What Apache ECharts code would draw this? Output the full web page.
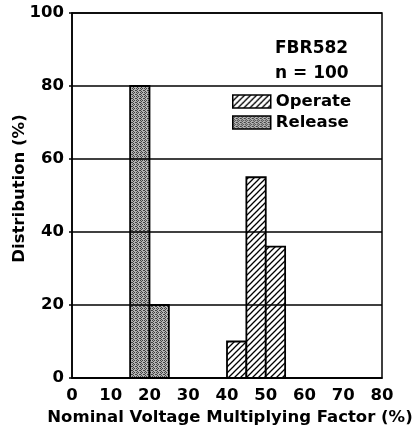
<!DOCTYPE html>
<html><head><meta charset="utf-8">
<script src="https://cdn.jsdelivr.net/npm/echarts@6/dist/echarts.min.js"></script>
<style>html,body{margin:0;padding:0;background:#fff}#c{width:417px;height:437px}</style>
</head><body><div id="c"></div>
<script>
var xTicks = [0, 10, 20, 30, 40, 50, 60, 70, 80];
var yTicks = [0, 20, 40, 60, 80, 100];
var releaseStart = [15, 20];
var releaseEnd = [20, 25];
var releaseValue = [80, 20];
var operateStart = [40, 45, 50];
var operateEnd = [45, 50, 55];
var operateValue = [10, 55, 36];

function hatchCanvas() {
  var c = document.createElement('canvas'); c.width = 6; c.height = 6;
  var g = c.getContext('2d');
  g.fillStyle = '#fff'; g.fillRect(0, 0, 6, 6);
  g.strokeStyle = '#000'; g.lineWidth = 1.3;
  g.beginPath();
  g.moveTo(-1, 7); g.lineTo(7, -1);
  g.moveTo(-4, 4); g.lineTo(4, -4);
  g.moveTo(2, 10); g.lineTo(10, 2);
  g.stroke();
  return c;
}
function stippleCanvas() {
  var c = document.createElement('canvas'); c.width = 4; c.height = 4;
  var g = c.getContext('2d');
  g.fillStyle = '#b4b4b4'; g.fillRect(0, 0, 4, 4);
  g.fillStyle = '#404040';
  g.fillRect(0, 0, 1, 1); g.fillRect(2, 0, 1, 1); g.fillRect(1, 1, 1, 1); g.fillRect(3, 2, 1, 1);
  g.fillRect(0, 2, 1, 1); g.fillRect(1, 3, 1, 1);
  return c;
}
var hatch = { image: hatchCanvas(), repeat: 'repeat' };
var stipple = { image: stippleCanvas(), repeat: 'repeat' };

function rows(s, e, v) { return s.map(function (x, i) { return [x, e[i], v[i]]; }); }

function makeRender(fill) {
  return function (params, api) {
    var p0 = api.coord([api.value(0), api.value(2)]);
    var p1 = api.coord([api.value(1), 0]);
    return { type: 'rect', shape: { x: p0[0], y: p0[1], width: p1[0] - p0[0], height: p1[1] - p0[1] },
      style: { fill: fill, stroke: '#000', lineWidth: 1.8 } };
  };
}

var font = '"DejaVu Sans", Verdana, sans-serif';
var ts = { fontFamily: font, fontSize: 16.5, fontWeight: 'bold', color: '#000' };
var chart = echarts.init(document.getElementById('c'), null, { renderer: 'canvas' });
chart.setOption({
  animation: false,
  backgroundColor: '#fff',
  grid: { left: 72, right: 35, top: 13, bottom: 59, containLabel: false, outerBoundsMode: 'none',
    show: true, borderColor: '#000', borderWidth: 1.5, backgroundColor: 'transparent' },
  xAxis: {
    type: 'value', min: 0, max: 80, interval: 10,
    name: 'Nominal Voltage Multiplying Factor (%)', nameLocation: 'middle', nameGap: 31, nameMoveOverlap: false,
    nameTextStyle: Object.assign({}, ts, { padding: [0, 0, 0, 6] }),
    axisLine: { show: true, lineStyle: { color: '#000', width: 1.5 } },
    axisTick: { show: false },
    splitLine: { show: false },
    axisLabel: Object.assign({ margin: 9,
      formatter: function (v) { return xTicks.indexOf(v) >= 0 ? String(v) : ''; } }, ts)
  },
  yAxis: {
    type: 'value', min: 0, max: 100, interval: 20, z: 5,
    name: 'Distribution (%)', nameLocation: 'middle', nameGap: 44, nameMoveOverlap: false,
    nameTextStyle: Object.assign({}, ts, { padding: [0, 0, 0, 14] }),
    axisLine: { show: true, lineStyle: { color: '#000', width: 1.5 } },
    axisTick: { show: true, inside: false, length: 3, lineStyle: { color: '#000', width: 1.5 } },
    splitLine: { show: true, lineStyle: { color: '#000', width: 1.5 } },
    axisLabel: Object.assign({ margin: 8,
      formatter: function (v) { return yTicks.indexOf(v) >= 0 ? String(v) : ''; } }, ts)
  },
  legend: {
    orient: 'vertical', left: 232, top: 93, padding: 0, itemWidth: 38, itemHeight: 13, itemGap: 4,
    textStyle: ts,
    data: [
      { name: 'Operate', icon: 'rect', itemStyle: { color: hatch, borderColor: '#000', borderWidth: 1.5 } },
      { name: 'Release', icon: 'rect', itemStyle: { color: stipple, borderColor: '#000', borderWidth: 1.5 } }
    ]
  },
  graphic: [
    { type: 'text', left: 275, top: 40, style: { text: 'FBR582', font: 'bold 17px ' + font, fill: '#000' } },
    { type: 'text', left: 275, top: 65, style: { text: 'n = 100', font: 'bold 17px ' + font, fill: '#000' } }
  ],
  series: [
    { name: 'Operate', type: 'custom', renderItem: makeRender(hatch), encode: { x: [0, 1], y: 2 },
      itemStyle: { color: hatch, borderColor: '#000', borderWidth: 1.5 }, data: rows(operateStart, operateEnd, operateValue), z: 2 },
    { name: 'Release', type: 'custom', renderItem: makeRender(stipple), encode: { x: [0, 1], y: 2 },
      itemStyle: { color: stipple, borderColor: '#000', borderWidth: 1.5 }, data: rows(releaseStart, releaseEnd, releaseValue), z: 2 }
  ]
});
</script></body></html>
